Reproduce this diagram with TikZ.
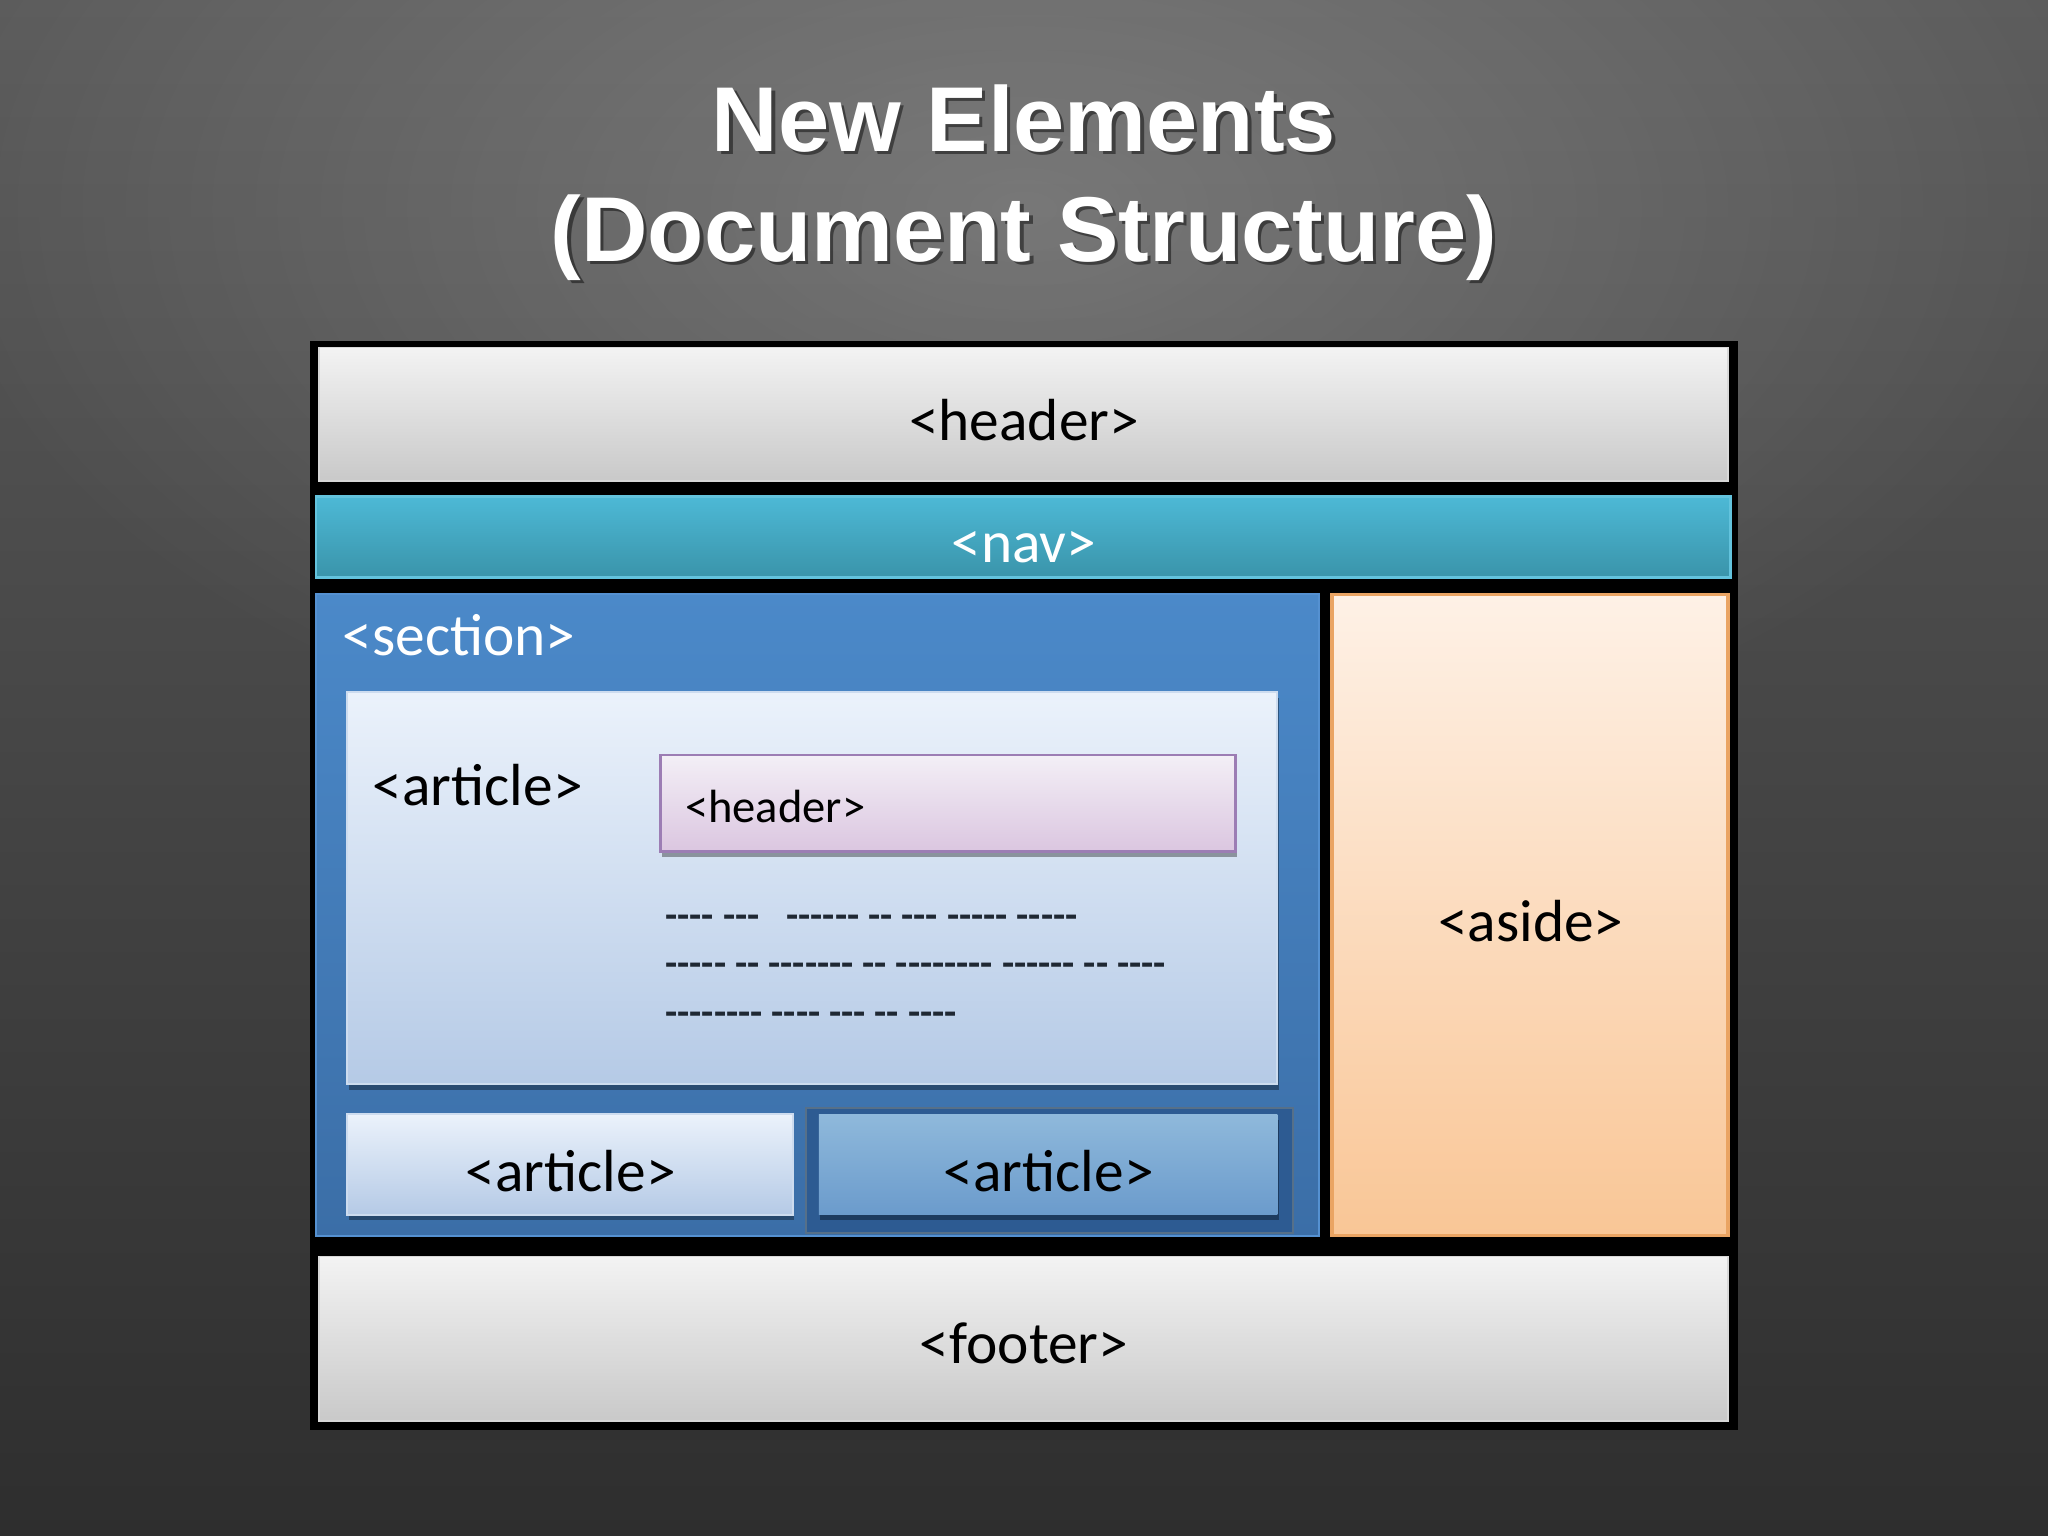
\documentclass[tikz,border=0pt]{standalone}
\usepackage{fontspec}
\setmainfont{Carlito}
\newfontfamily\titlefont{Liberation Sans}
\newfontfamily\dashfont{Carlito}[Ligatures=TeXOff]
\usetikzlibrary{shadows,fadings}
\tikzfading[name=myglow, inner color=transparent!0, outer color=transparent!100]
\definecolor{bgtop}{HTML}{5C5C5C}
\definecolor{bgmid}{HTML}{454545}
\definecolor{bgbot}{HTML}{2E2E2E}
\definecolor{hdrtop}{HTML}{F3F3F3}
\definecolor{hdrbot}{HTML}{C9C9C9}
\definecolor{hdrline}{HTML}{D8D8D8}
\definecolor{navtop}{HTML}{4DB9D6}
\definecolor{navbot}{HTML}{3A94AA}
\definecolor{navline}{HTML}{63C3DD}
\definecolor{sectop}{HTML}{4B89C9}
\definecolor{secbot}{HTML}{3B6EA7}
\definecolor{secline}{HTML}{5591D1}
\definecolor{arttop}{HTML}{EBF2FB}
\definecolor{artbot}{HTML}{B5CAE6}
\definecolor{artline}{HTML}{CDDCEF}
\definecolor{ihtop}{HTML}{F3EFF6}
\definecolor{ihbot}{HTML}{DBC6E0}
\definecolor{ihline}{HTML}{9C7DB4}
\definecolor{dashcol}{HTML}{1F2833}
\definecolor{a2frame}{HTML}{2D5B92}
\definecolor{a2line}{HTML}{567089}
\definecolor{a2top}{HTML}{8FB9DB}
\definecolor{a2bot}{HTML}{6B9BCC}
\definecolor{asidetop}{HTML}{FEF1E6}
\definecolor{asidebot}{HTML}{F9C696}
\definecolor{asideline}{HTML}{EAA463}
\begin{document}
\begin{tikzpicture}[x=0.013061cm,y=-0.013061cm,
  titletext/.style={font=\titlefont\bfseries\fontsize{26.2}{30}\selectfont, anchor=base, inner sep=0pt},
  lbl/.style={font=\fontsize{16.9}{20}\selectfont, anchor=base, inner sep=0pt, text=black},
  lblw/.style={lbl, anchor=base west},
  smalllbl/.style={font=\fontsize{13.25}{16}\selectfont, anchor=base west, inner sep=0pt, text=black},
  dashline/.style={font=\dashfont\bfseries\fontsize{11.3}{13}\selectfont, anchor=base west, inner sep=0pt, text=dashcol},
  shadowed/.style={drop shadow={shadow xshift=0.4pt, shadow yshift=-1.6pt, opacity=0.35, fill=black}}
]
\useasboundingbox (0,0) rectangle (1568,1176);
% background
\shade[top color=bgtop, middle color=bgmid, bottom color=bgbot] (0,0) rectangle (1568,1176);
\begin{scope}
  \clip (0,0) rectangle (1568,1176);
  \fill[white, opacity=0.2, path fading=myglow] (784,160) ellipse [x radius=11cm, y radius=6cm];
\end{scope}
% title
\node[titletext, text=black, opacity=0.45] (t1s) at (786.5,118.5) {New Elements};
\node[titletext, text=white] (t1) at (784,116) {New Elements};
\node[titletext, text=black, opacity=0.45] (t2s) at (786.5,202.5) {(Document Structure)};
\node[titletext, text=white] (t2) at (784,200) {(Document Structure)};
% outer frame
\fill[black] (237,261) rectangle (1331,1095);
% header
\path[draw=hdrline, line width=0.5pt, top color=hdrtop, bottom color=hdrbot] (244,266) rectangle (1323,368);
\node[lbl] (hdr) at (784,337) {<header>};
% nav
\path[draw=navline, line width=0.8pt, top color=navtop, bottom color=navbot] (242,380) rectangle (1325,442);
\node[lbl, text=white] (nav) at (784,431) {<nav>};
% section
\path[draw=secline, line width=0.6pt, top color=sectop, bottom color=secbot] (242,455) rectangle (1010,946);
\node[lblw, text=white] (sec) at (262,502) {<section>};
% big article
\path[shadowed, draw=artline, line width=0.6pt, top color=arttop, bottom color=artbot] (266,530) rectangle (978,830);
\node[lblw] (art1) at (285,617) {<article>};
% inner header
\path[shadowed, draw=ihline, line width=0.8pt, top color=ihtop, bottom color=ihbot] (506,578) rectangle (946,652);
\node[smalllbl] (ihdr) at (524,629.5) {<header>};
% dash lines
\node[dashline] (d1) at (509,711) {---- ---\ \ \ ------ -- --- ----- -----};
\node[dashline] (d2) at (509,748) {----- -- ------- -- -------- ------ -- ----};
\node[dashline] (d3) at (509,785) {-------- ---- --- -- ----};
% bottom article left
\path[shadowed, draw=artline, line width=0.6pt, top color=arttop, bottom color=artbot] (266,853) rectangle (607,930);
\node[lbl] (art2) at (437,912) {<article>};
% bottom article right
\path[fill=a2frame, draw=a2line, line width=0.6pt] (617,848) rectangle (990,944);
\path[shadowed, top color=a2top, bottom color=a2bot] (627,853) rectangle (978,930);
\node[lbl] (art3) at (803,912) {<article>};
% aside
\path[draw=asideline, line width=1pt, top color=asidetop, bottom color=asidebot] (1020,455) rectangle (1323,946);
\node[lbl] (aside) at (1172,721) {<aside>};
% footer
\path[draw=hdrline, line width=0.5pt, top color=hdrtop, bottom color=hdrbot] (244,962) rectangle (1323,1088);
\node[lbl] (ftr) at (784,1044) {<footer>};
\end{tikzpicture}
\end{document}
